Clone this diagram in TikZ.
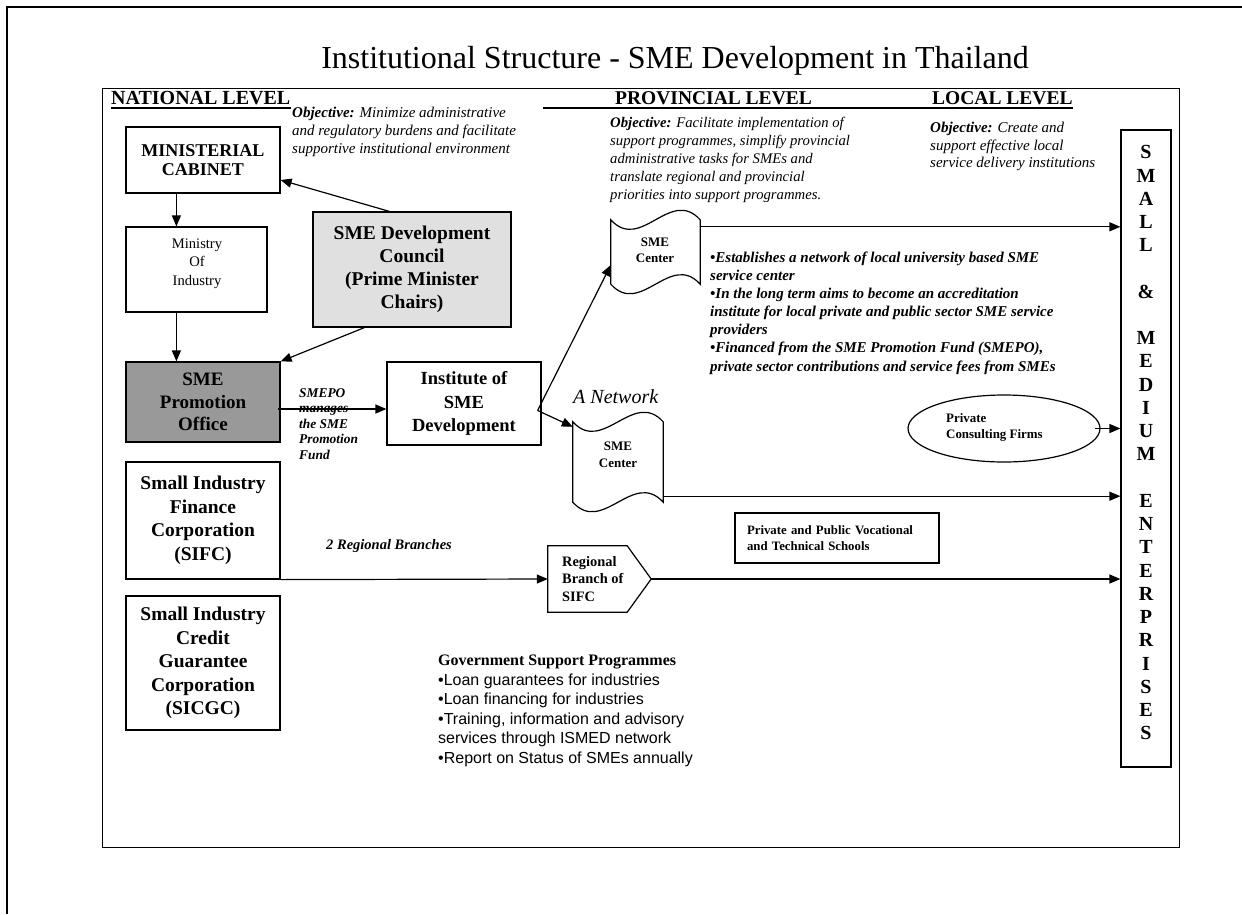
\documentclass[tikz,border=0pt]{standalone}
\usepackage{fontspec}
\setmainfont{Liberation Serif}
\newfontfamily\sansf{Liberation Sans}
\usetikzlibrary{arrows.meta,shapes.geometric,calc}
\begin{document}
\begin{tikzpicture}[x=1pt,y=-1pt,
  lw/.style={line width=1.2pt},
  arr/.style={line width=1.2pt,-{Triangle[length=11pt,width=9pt]}},
  box/.style={draw,line width=1.2pt,inner sep=0pt,align=center},
  txt/.style={inner sep=0pt,align=left,anchor=north west},
  head/.style={font=\fontsize{19.5}{22}\selectfont\bfseries,anchor=base west,inner sep=0pt},
]
\useasboundingbox (0,0) rectangle (1242,914);
\fill[white] (0,0) rectangle (1242,914);
% outer frame
\draw[line width=1.5pt] (7,914) -- (7,7) -- (1242,7);
% inner frame
\node[draw,line width=1.3pt,minimum width=1077,minimum height=759,anchor=north west,inner sep=0pt] (frame) at (102,88) {};
% title
\node[font=\fontsize{32}{38}\selectfont,anchor=base,inner sep=0pt] (title) at (675,68) {Institutional Structure - SME Development in Thailand};
% level headings
\node[head,font=\fontsize{20}{22}\selectfont\bfseries] (natl) at (111,104.5) {NATIONAL LEVEL};
\draw[line width=2pt] ($(natl.base west)+(0,3.5)$) -- ($(natl.base east)+(0,3.5)$);
\node[head] (prov) at (615,104) {PROVINCIAL LEVEL};
\node[head] (loc) at (932,104) {LOCAL LEVEL};
\draw[line width=2pt] (543,107.5) -- ($(loc.base east)+(0,3.5)$);
% objectives
\node[txt,font=\fontsize{15}{18}\selectfont\itshape] (objn) at (292,107) {\textbf{Objective:} Minimize administrative\\and regulatory burdens and facilitate\\supportive institutional environment};
\node[txt,font=\fontsize{14.7}{18}\selectfont\itshape] (objp) at (610,117) {\textbf{Objective:} Facilitate implementation of\\support programmes, simplify provincial\\administrative tasks for SMEs and\\translate regional and provincial\\priorities into support programmes.};
\node[txt,font=\fontsize{15}{17.5}\selectfont\itshape] (objl) at (930,122) {\textbf{Objective:} Create and\\support effective local\\service delivery institutions};
% bullets
\node[txt,font=\fontsize{15}{18.1}\selectfont\bfseries\itshape] (bul) at (710,251.7) {•Establishes a network of local university based SME\\service center\\•In the long term aims to become an accreditation\\institute for local private and public sector SME service\\providers\\•Financed from the SME Promotion Fund (SMEPO),\\private sector contributions and service fees from SMEs};
% national boxes
\node[box,minimum width=154,minimum height=66,font=\fontsize{18}{19.5}\selectfont\bfseries] (cab) at (203,160) {MINISTERIAL\\CABINET};
\node[box,minimum width=141,minimum height=85] (min) at (196.5,269.5) {};
\node[inner sep=0pt,align=center,font=\fontsize{14.6}{18.5}\selectfont] (mint) at (197,263.5) {Ministry\\Of\\Industry};
\node[box,fill=black!12,minimum width=198,minimum height=115,font=\fontsize{19.5}{23}\selectfont\bfseries] (council) at (412,269.5) {SME Development\\Council\\(Prime Minister\\Chairs)};
\node[box,fill=black!40,minimum width=154,minimum height=80,font=\fontsize{19}{22.5}\selectfont\bfseries] (smepo) at (203,402) {SME\\Promotion\\Office};
\node[box,minimum width=154,minimum height=83,font=\fontsize{18.5}{23.5}\selectfont\bfseries] (ins) at (464,403.5) {Institute of\\SME\\Development};
\node[box,minimum width=154,minimum height=117,font=\fontsize{19.5}{23.5}\selectfont\bfseries] (sifc) at (203,520.5) {Small Industry\\Finance\\Corporation\\(SIFC)};
\node[box,minimum width=154,minimum height=134,font=\fontsize{19.5}{23.5}\selectfont\bfseries] (sicgc) at (203,663) {Small Industry\\Credit\\Guarantee\\Corporation\\(SICGC)};
\node[txt,font=\fontsize{13.4}{15.5}\selectfont\bfseries\itshape] (smepol) at (299,388.2) {SMEPO\\manages\\the SME\\Promotion\\Fund};
\node[font=\fontsize{14.5}{16}\selectfont\bfseries\itshape,anchor=base west,inner sep=0pt] (rbl) at (326,549) {2 Regional Branches};
% SME centers (punched tape)
\node[minimum width=89,minimum height=64,inner sep=0pt] (c1) at (655.5,252) {};
\draw[lw] (c1.north west) .. controls ($(c1.north west)+(30,33)$) and ($(c1.north east)+(-30,-33)$) .. (c1.north east) -- (c1.south east) .. controls ($(c1.south east)+(-30,-33)$) and ($(c1.south west)+(30,33)$) .. (c1.south west) -- cycle;
\node[inner sep=0pt,align=center,font=\fontsize{13}{15.5}\selectfont\bfseries] (c1t) at (655,250.5) {SME\\Center};
\node[minimum width=90,minimum height=80,inner sep=0pt] (c2) at (618,462) {};
\draw[lw] (c2.north west) .. controls ($(c2.north west)+(30,33)$) and ($(c2.north east)+(-30,-33)$) .. (c2.north east) -- (c2.south east) .. controls ($(c2.south east)+(-30,-33)$) and ($(c2.south west)+(30,33)$) .. (c2.south west) -- cycle;
\node[inner sep=0pt,align=center,font=\fontsize{13}{16.5}\selectfont\bfseries] (c2t) at (618,454.5) {SME\\Center};
\node[font=\fontsize{20}{22}\selectfont\itshape,anchor=base west,inner sep=0pt] (net) at (573,403) {A Network};
% regional branch (pentagon)
\node[minimum width=103,minimum height=66,inner sep=0pt] (rb) at (599.5,579) {};
\draw[lw] (rb.north west) -- ($(rb.north east)+(-24,0)$) -- (rb.east) -- ($(rb.south east)+(-24,0)$) -- (rb.south west) -- cycle;
\node[txt,font=\fontsize{14.4}{17.5}\selectfont\bfseries] (rbt) at (562,556) {Regional\\Branch of\\SIFC};
% vocational schools
\node[box,minimum width=204,minimum height=50,align=left,text width=180,inner xsep=12pt,font=\fontsize{12.8}{16}\selectfont\bfseries] (voc) at (837,538) {Private and Public Vocational\\and Technical Schools};
% consulting firms
\node[draw,lw,ellipse,minimum width=192,minimum height=67,inner sep=0pt] (pcf) at (1004,428.5) {};
\node[txt,font=\fontsize{12.9}{16}\selectfont\bfseries] (pcft) at (946,413) {Private\\Consulting Firms};
% government programmes
\node[txt,font=\fontsize{16}{19.5}\selectfont] (gov) at (438,655) {{\fontsize{16}{19.5}\selectfont\bfseries Government Support Programmes}\\{\sansf •Loan guarantees for industries}\\{\sansf •Loan financing for industries}\\{\sansf •Training, information and advisory}\\{\sansf services through ISMED network}\\{\sansf •Report on Status of SMEs annually}};
% SME enterprises column
\node[box,minimum width=50,minimum height=637] (sme) at (1146,448.5) {};
\foreach \i/\l in {0/S,1/M,2/A,3/L,4/L,6/\&,8/M,9/E,10/D,11/I,12/U,13/M,15/E,16/N,17/T,18/E,19/R,20/P,21/R,22/I,23/S,24/E,25/S}
  \node[font=\fontsize{20}{22}\selectfont\bfseries,anchor=base,inner sep=0pt,name=smel\i] at (1146,{158.8+\i*23.24}) {\l};
% connectors
\coordinate (cabo) at ($(cab.south west)+(51,0)$);
\draw[arr] (cabo) -- (cabo |- min.north);
\coordinate (mino) at ($(min.south west)+(51,0)$);
\draw[arr] (mino) -- (mino |- smepo.north);
\draw[arr] ($(council.north west)+(77,0)$) -- ($(cab.east)+(0,20)$);
\draw[arr] ($(council.south west)+(52,0)$) -- (smepo.north east);
\coordinate (smo) at ($(smepo.east)+(-3,7)$);
\draw[arr] (smo) -- (smo -| ins.west);
\coordinate (inso) at ($(ins.east)+(-4,7)$);
\draw[arr] (inso) -- ($(c1.west)+(0,13)$);
\draw[arr] (inso) -- ($(c2.north west)+(0,5)$);
\coordinate (c1o) at ($(c1.north east)+(0,7)$);
\draw[arr] (c1o) -- (c1o -| sme.west);
\coordinate (c2o) at ($(c2.south east)+(0,-6)$);
\draw[arr] (c2o) -- (c2o -| sme.west);
\draw[arr] (sifc.south east) -- (rb.west);
\draw[arr] (rb.east) -- (rb.east -| sme.west);
\coordinate (pcfo) at ($(pcf.east)+(-6,0)$);
\draw[arr] (pcfo) -- (pcfo -| sme.west);
\end{tikzpicture}
\end{document}
